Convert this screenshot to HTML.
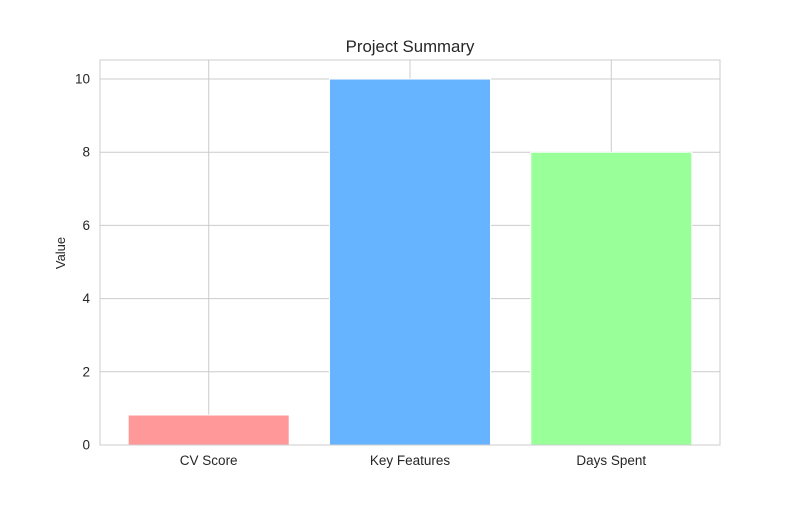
<!DOCTYPE html>
<html><head><meta charset="utf-8"><style>
body{margin:0;background:#fff;}
svg{font-family:"Liberation Sans","DejaVu Sans",sans-serif;}
</style></head><body>
<svg id="chart" width="800" height="500">
<rect x="0" y="0" width="800" height="500" fill="#fff"/>
<text x="410" y="52" text-anchor="middle" font-size="16.8" fill="#262626">Project Summary</text>
<text transform="translate(65,253) rotate(-90)" text-anchor="middle" font-size="13" fill="#262626">Value</text>
<g id="grid"></g><g id="bars"></g><g id="ticks"></g>
<rect x="100" y="60" width="620" height="385" fill="none" stroke="#cccccc" stroke-width="1"/>
</svg>
<script>
const categories=["CV Score","Key Features","Days Spent"];
const values=[0.82,10,8];
const colors=["#ff9999","#66b3ff","#99ff99"];
const yTicks=[0,2,4,6,8,10];
const L=100,R=720,T=60,B=445,yMin=0,yMax=10.52,xMin=-0.54,xMax=2.54;
const y=v=>B-(v-yMin)/(yMax-yMin)*(B-T);
const x=i=>L+(i-xMin)/(xMax-xMin)*(R-L);
const ns="http://www.w3.org/2000/svg";
const mk=(p,t,a)=>{const e=document.createElementNS(ns,t);for(const k in a)e.setAttribute(k,a[k]);p.appendChild(e);return e;};
const grid=document.getElementById('grid'),bars=document.getElementById('bars'),ticks=document.getElementById('ticks');
yTicks.forEach(v=>{
 const g=mk(grid,'line',{x1:L,x2:R,y1:y(v),y2:y(v),stroke:'#cccccc','stroke-width':1});
 
 
 const t=mk(ticks,'text',{x:L-10,y:y(v)+4.5,'text-anchor':'end','font-size':13.5,fill:'#262626'});
 t.textContent=v;
 
 
});
const bw=0.8;
categories.forEach((c,i)=>{
 const g=mk(grid,'line',{x1:x(i),x2:x(i),y1:T,y2:B,stroke:'#cccccc','stroke-width':1});
 
 
 const r=mk(bars,'rect',{x:x(i-bw/2),width:x(i+bw/2)-x(i-bw/2),y:y(values[i]),height:y(0)-y(values[i]),fill:colors[i],stroke:'#ffffff','stroke-width':1});
 
 
 const t=mk(ticks,'text',{x:x(i),y:B+20,'text-anchor':'middle','font-size':13.5,fill:'#262626'});
 t.textContent=c;
 
 
});
</script>
</body></html>
